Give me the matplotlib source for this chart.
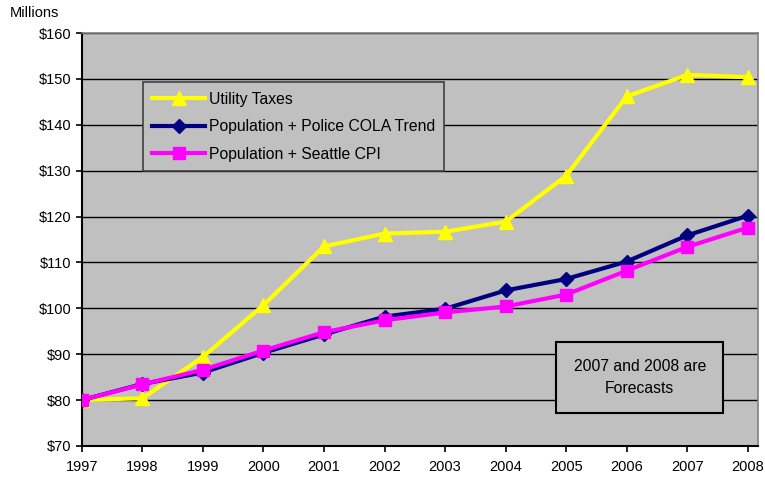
import matplotlib.pyplot as plt
import numpy as np

plt.rcParams['font.family'] = ['Liberation Sans', 'DejaVu Sans']

years = list(range(1997, 2009))
utility_taxes = [80.0, 80.4, 89.4, 100.7, 113.5, 116.3, 116.7, 118.9, 128.9, 146.2, 150.9, 150.4]
police_cola = [80.0, 83.5, 86.0, 90.3, 94.3, 98.2, 99.9, 103.9, 106.4, 110.2, 115.9, 120.2]
seattle_cpi = [80.0, 83.4, 86.6, 90.8, 94.8, 97.4, 99.1, 100.4, 103.0, 108.2, 113.4, 117.6]
yticks = list(range(70, 161, 10))

fig = plt.figure(figsize=(7.65, 4.8), dpi=100)
ax = fig.add_axes([0.107, 0.071, 0.884, 0.860])
ax.set_facecolor('#c0c0c0')

ax.plot(years, utility_taxes, color='#ffff00', lw=3, marker='^', ms=10.5, label='Utility Taxes', zorder=3)
ax.plot(years, police_cola, color='#000080', lw=3, marker='D', ms=7, label='Population + Police COLA Trend', zorder=4)
ax.plot(years, seattle_cpi, color='#ff00ff', lw=3, marker='s', ms=9, label='Population + Seattle CPI', zorder=5)

ax.set_xlim(1997, 2008.17)
ax.set_ylim(70, 160)
ax.set_yticks(yticks)
ax.set_yticklabels(['$%d' % v for v in yticks])
ax.set_xticks(years)
ax.yaxis.grid(True, color='black', lw=1)
ax.set_axisbelow(True)
ax.tick_params(labelsize=10.5, direction='out', length=4, width=1.2)
ax.tick_params(axis='x', pad=6)

for s in ['top', 'right']:
    ax.spines[s].set_color('#808080')
    ax.spines[s].set_linewidth(1.2)
for s in ['left', 'bottom']:
    ax.spines[s].set_color('black')
    ax.spines[s].set_linewidth(1.5)

fig.text(0.013, 0.958, 'Millions', fontsize=10.5, ha='left', va='bottom')

leg = ax.legend(loc='upper left', bbox_to_anchor=(0.090, 0.881), fontsize=11.3,
                frameon=True, fancybox=False, handlelength=3.4, borderpad=0.6,
                labelspacing=0.8, handletextpad=0.2, borderaxespad=0)
leg.get_frame().set_facecolor('#c0c0c0')
leg.get_frame().set_edgecolor('#404040')
leg.get_frame().set_linewidth(1.2)
leg.get_frame().set_alpha(1)

ax.text(0.825, 0.166, '2007 and 2008 are\nForecasts', transform=ax.transAxes,
        ha='center', va='center', fontsize=11.3, linespacing=1.6,
        bbox=dict(boxstyle='square,pad=1.1', facecolor='#c0c0c0', edgecolor='black', lw=1.5),
        zorder=6)

fig.savefig('out.png', dpi=100)
